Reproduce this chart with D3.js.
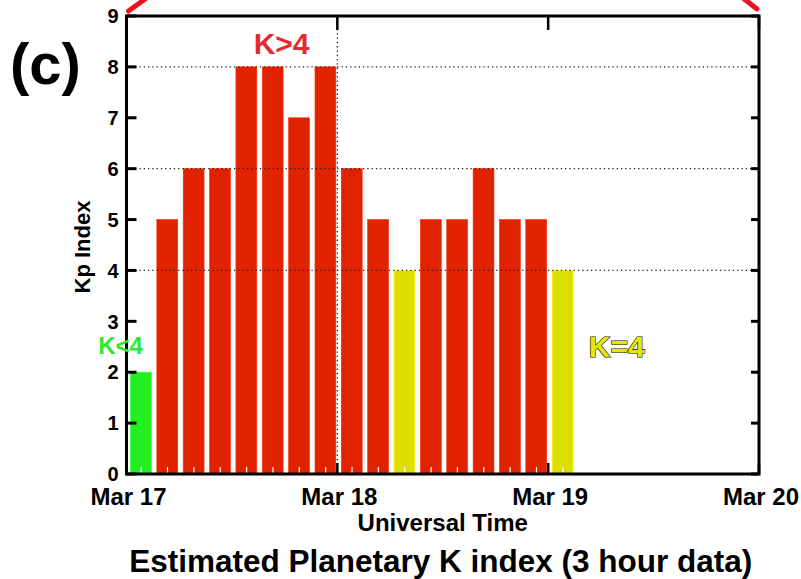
<!DOCTYPE html>
<html>
<head>
<meta charset="utf-8">
<script src="https://cdn.jsdelivr.net/npm/d3@7"></script>
<style>
  body { margin: 0; background: #fff; }
  text { font-family: "Liberation Sans", Arial, sans-serif; font-weight: bold; }
</style>
</head>
<body>
<svg width="801" height="579"></svg>
<script>
// Kp index, 3 hour slots starting Mar 17 00 UT
var kpValues = [2, 5, 6, 6, 8, 8, 7, 8, 6, 5, 4, 5, 5, 6, 5, 5, 4];
var dayLabels = ["Mar 17", "Mar 18", "Mar 19", "Mar 20"];
var yTicks = [0, 1, 2, 3, 4, 5, 6, 7, 8, 9];
var gridY = [4, 6, 8];

var margin = {top: 16, right: 42, bottom: 105, left: 126.5};
var width = 801 - margin.left - margin.right,
    height = 579 - margin.top - margin.bottom;

var svg = d3.select("svg");
var g = svg.append("g")
           .attr("transform", "translate(" + margin.left + "," + margin.top + ")");

var t0 = Date.UTC(2015, 2, 17);
var hour = 3600 * 1000;
var dayDates = dayLabels.map((d, i) => new Date(t0 + i * 24 * hour));

var x = d3.scaleUtc()
          .domain([dayDates[0], dayDates[3]])
          .range([0, width]);
var y = d3.scaleLinear()
          .domain([0, 9])
          .range([height, 0]);

var data = kpValues.map((v, i) => ({start: new Date(t0 + i * 3 * hour), end: new Date(t0 + (i + 1) * 3 * hour), kp: v}));

function barColor(v) {
    if (v < 4) return "#22ee22";
    if (v == 4) return "#dede00";
    return "#e02200";
}

// bars
g.append("g").selectAll("rect")
 .data(data)
 .enter()
 .append("rect")
 .attr("x", d => x(d.start) + 4)
 .attr("width", d => x(d.end) - x(d.start) - 5.5)
 .attr("y", d => y(d.kp))
 .attr("height", d => y(0) - y(d.kp))
 .attr("fill", d => barColor(d.kp))
 .attr("stroke", d => d3.color(barColor(d.kp)).brighter(0.6))
 .attr("stroke-width", 0.6);

// white minor ticks at slot centres
g.append("g").selectAll("line")
 .data(data)
 .enter()
 .append("line")
 .attr("x1", d => x(new Date((+d.start + +d.end) / 2)) + 1.5)
 .attr("x2", d => x(new Date((+d.start + +d.end) / 2)) + 1.5)
 .attr("y1", height - 1)
 .attr("y2", height - 7)
 .attr("stroke", "#fff")
 .attr("stroke-width", 1.2);

// dotted grid
g.append("g").selectAll("line")
 .data(gridY)
 .enter()
 .append("line")
 .attr("x1", 0).attr("x2", width)
 .attr("y1", d => y(d)).attr("y2", d => y(d))
 .attr("stroke", "#222")
 .attr("stroke-width", 1.3)
 .attr("stroke-dasharray", "1.3,3");
g.append("line")
 .attr("x1", x(dayDates[1])).attr("x2", x(dayDates[1]))
 .attr("y1", 0).attr("y2", height)
 .attr("stroke", "#222")
 .attr("stroke-width", 1.3)
 .attr("stroke-dasharray", "1.3,3");

// y axis ticks (left and right, inward)
var yt = g.append("g");
yTicks.forEach(function(v) {
    yt.append("line").attr("x1", 0).attr("x2", 10).attr("y1", y(v)).attr("y2", y(v))
      .attr("stroke", "#000").attr("stroke-width", 3);
    yt.append("line").attr("x1", width - 8).attr("x2", width).attr("y1", y(v)).attr("y2", y(v))
      .attr("stroke", "#000").attr("stroke-width", 3);
    yt.append("text").attr("x", -8).attr("y", y(v)).attr("dy", "0.36em")
      .attr("text-anchor", "end").style("font-size", "20px").text(v);
});

// x axis ticks & labels
var xt = g.append("g");
dayDates.forEach(function(d, i) {
    xt.append("line").attr("x1", x(d)).attr("x2", x(d)).attr("y1", height).attr("y2", height - 11)
      .attr("stroke", "#000").attr("stroke-width", 2.5);
    xt.append("line").attr("x1", x(d)).attr("x2", x(d)).attr("y1", 0).attr("y2", 14)
      .attr("stroke", "#000").attr("stroke-width", 2.5);
    xt.append("text").attr("x", x(d) + 2).attr("y", height + 31)
      .attr("text-anchor", "middle").style("font-size", "24px").text(dayLabels[i]);
});

// frame
g.append("rect")
 .attr("x", 0).attr("y", 0).attr("width", width).attr("height", height)
 .attr("fill", "none").attr("stroke", "#000").attr("stroke-width", 3);

// axis titles
g.append("text")
 .attr("x", width / 2).attr("y", height + 57)
 .attr("text-anchor", "middle").style("font-size", "24px")
 .text("Universal Time");
g.append("text")
 .attr("transform", "translate(-37," + (y(4.5) + 2) + ") rotate(-90)")
 .attr("text-anchor", "middle").style("font-size", "22px")
 .text("Kp Index");
svg.append("text")
 .attr("x", margin.left + width / 2 - 2).attr("y", 572)
 .attr("text-anchor", "middle").style("font-size", "31.5px")
 .text("Estimated Planetary K index (3 hour data)");

// panel label
svg.append("text")
 .attr("x", 10).attr("y", 84)
 .style("font-size", "58px")
 .text("(c)");

// annotations
g.append("text")
 .attr("x", x(new Date(t0 + 18 * hour)) - 3).attr("y", y(8.25))
 .attr("text-anchor", "middle").style("font-size", "30px")
 .attr("fill", "#e42a30")
 .text("K>4");
g.append("text")
 .attr("x", -6).attr("y", y(2.35))
 .attr("text-anchor", "middle").style("font-size", "24px")
 .attr("fill", "#2ee82e")
 .text("K<4");
g.append("text")
 .attr("x", x(new Date(t0 + 55.8 * hour))).attr("y", y(2.3))
 .attr("text-anchor", "middle").style("font-size", "30px")
 .attr("fill", "#e6e600").attr("stroke", "#111").attr("stroke-width", 1.2)
 .style("paint-order", "stroke")
 .text("K=4");

// red connector lines at the top corners
svg.append("line")
 .attr("x1", margin.left + 2).attr("y1", margin.top - 5)
 .attr("x2", margin.left + 20).attr("y2", -2)
 .attr("stroke", "#ee1122").attr("stroke-width", 5).attr("stroke-linecap", "round");
svg.append("line")
 .attr("x1", margin.left + width - 2).attr("y1", margin.top - 7)
 .attr("x2", margin.left + width - 16).attr("y2", -2)
 .attr("stroke", "#ee1122").attr("stroke-width", 5).attr("stroke-linecap", "round");
</script>
</body>
</html>
